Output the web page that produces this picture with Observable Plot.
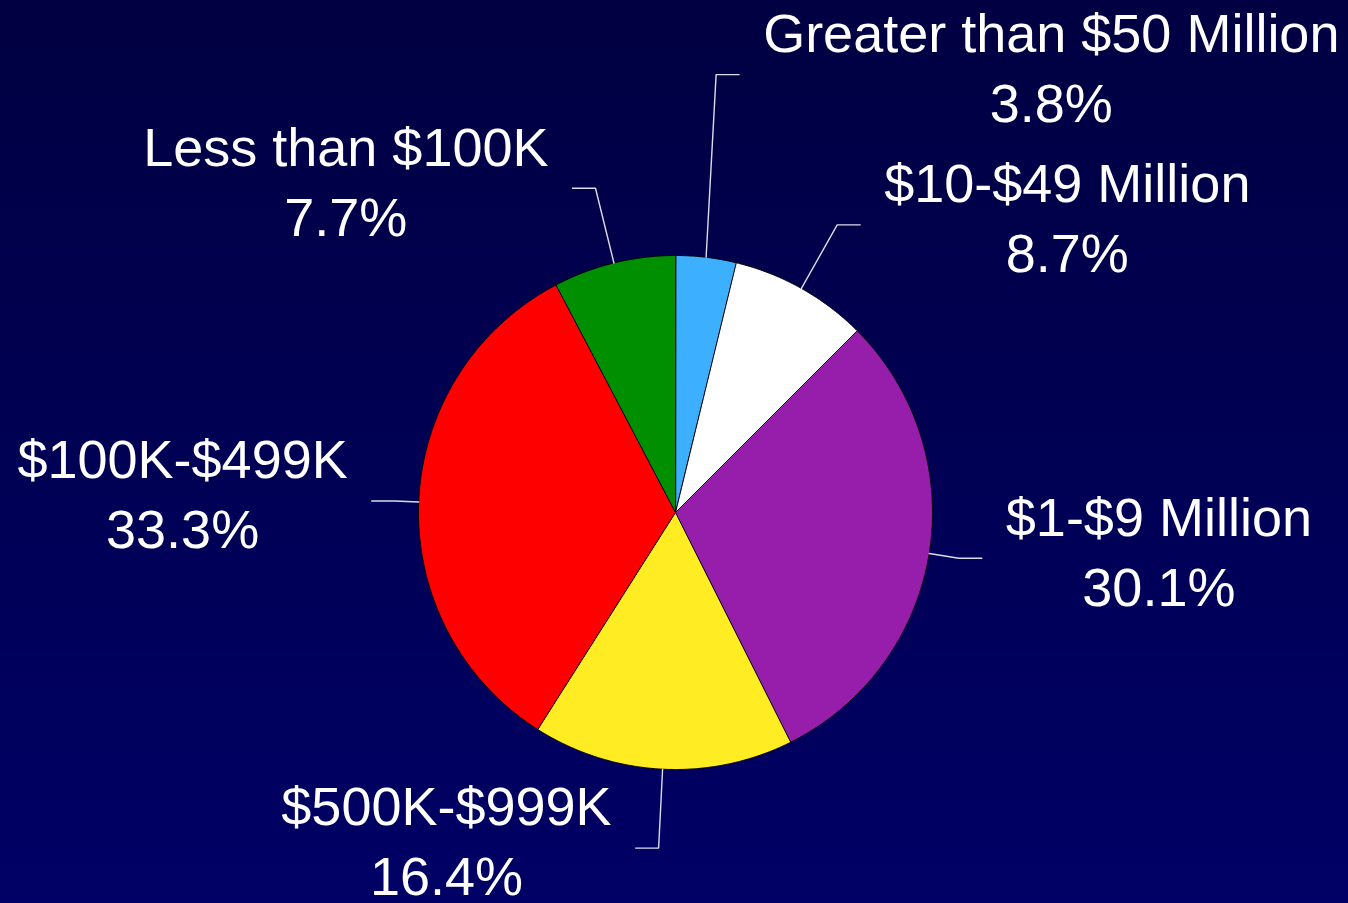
<!DOCTYPE html>
<html>
<head>
<meta charset="utf-8">
<script src="https://cdn.jsdelivr.net/npm/d3@7"></script>
<script src="https://cdn.jsdelivr.net/npm/@observablehq/plot@0.6"></script>
<style>
  html, body { margin: 0; padding: 0; background: #000050; overflow: hidden; }
  #chart svg { display: block; }
</style>
</head>
<body>
<div id="chart"></div>
<script>
// ---- Data (clockwise from 12 o'clock) ----
const categories = ["Greater than $50 Million", "$10-$49 Million", "$1-$9 Million", "$500K-$999K", "$100K-$499K", "Less than $100K"];
const shares = [3.8, 8.7, 30.1, 16.4, 33.3, 7.7];
const sliceColors = ["#3cb0ff", "#ffffff", "#961eab", "#ffec22", "#ff0000", "#008f00"];

// ---- Layout (not data) ----
const W = 1348, H = 903;
const cx = 675, cy = 512, R = 257;
const leaderLength = [183, 73, 30, 79, 24, 77];
const leaderTilt = [-3.7, 0, 0, 0, 0, 0]; // degrees, deviation from the radial direction
const elbowRun = 23;   // horizontal part of the leader
const labelGap = 24;   // gap between leader end and label box
const fontSize = 54;
const lineGap = 70;
const fontFamily = "'Liberation Sans', Arial, Helvetica, sans-serif";

const rad = Math.PI / 180;
const total = d3.sum(shares);
const pt = (a, r) => [cx + r * Math.sin(a), cy - r * Math.cos(a)];

// measure text width to centre both lines of each label
const ctx = document.createElement("canvas").getContext("2d");
ctx.font = `${fontSize}px ${fontFamily}`;

let acc = 0;
const slices = shares.map((v, i) => {
  const a0 = acc / total * 2 * Math.PI;
  acc += v;
  const a1 = acc / total * 2 * Math.PI;
  return {category: categories[i], value: v, a0, a1, mid: (a0 + a1) / 2, i};
});

// wedge polygons
const wedgePts = [];
for (const s of slices) {
  wedgePts.push({category: s.category, x: cx, y: cy});
  const n = Math.max(2, Math.ceil((s.a1 - s.a0) / (0.25 * rad)));
  for (let k = 0; k <= n; k++) {
    const a = s.a0 + (s.a1 - s.a0) * k / n;
    const [x, y] = pt(a, R);
    wedgePts.push({category: s.category, x, y});
  }
}

// leaders and labels
const leaderPts = [];
const labels = [];
for (const s of slices) {
  const [ex, ey] = pt(s.mid, R);
  const dir = s.mid + leaderTilt[s.i] * rad;
  const bx = ex + leaderLength[s.i] * Math.sin(dir);
  const by = ey - leaderLength[s.i] * Math.cos(dir);
  const side = bx >= cx ? 1 : -1;
  const tx = bx + side * elbowRun;
  leaderPts.push({category: s.category, x: ex, y: ey});
  leaderPts.push({category: s.category, x: bx, y: by});
  leaderPts.push({category: s.category, x: tx, y: by});
  const w = ctx.measureText(s.category).width;
  labels.push({
    x: tx + side * (labelGap + w / 2),
    y: by,
    text: `${s.category}\n${s.value.toFixed(1)}%`
  });
}

const chart = Plot.plot({
  width: W,
  height: H,
  margin: 0,
  x: {domain: [0, W], range: [0, W], axis: null},
  y: {domain: [0, H], range: [0, H], axis: null},
  color: {domain: categories, range: sliceColors},
  style: {background: "linear-gradient(to bottom, #000042 0%, #000066 100%)", fontFamily},
  marks: [
    Plot.line(wedgePts, {x: "x", y: "y", z: "category", fill: "category", stroke: "#000000", strokeWidth: 1, curve: "linear-closed"}),
    Plot.line(leaderPts, {x: "x", y: "y", z: "category", stroke: "#dcdcec", strokeWidth: 1.4}),
    Plot.text(labels, {
      x: "x", y: "y", text: "text",
      fill: "#ffffff", fontSize, fontFamily,
      textAnchor: "middle", lineAnchor: "middle", lineHeight: lineGap / fontSize,
      dy: -10
    })
  ]
});
document.getElementById("chart").appendChild(chart);
</script>
</body>
</html>
